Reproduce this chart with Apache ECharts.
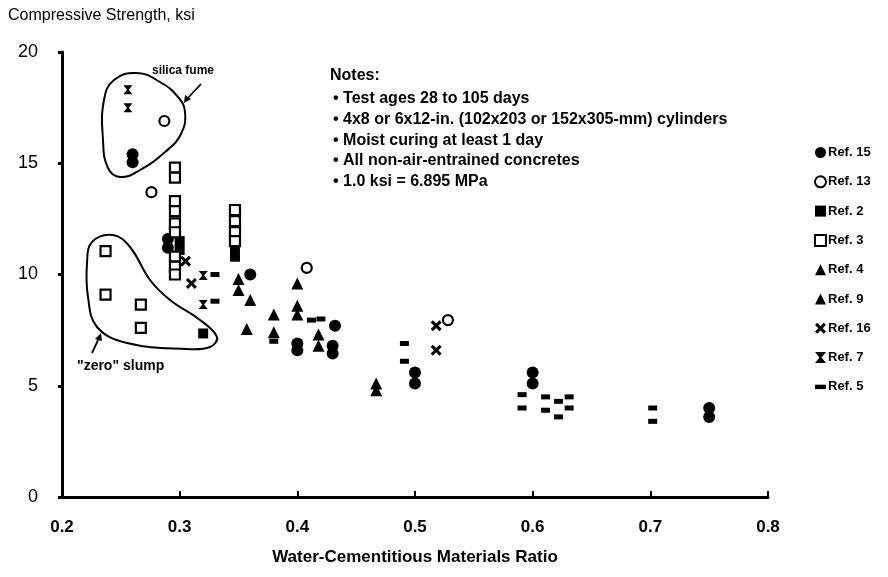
<!DOCTYPE html>
<html><head><meta charset="utf-8">
<script src="https://cdn.jsdelivr.net/npm/echarts@6/dist/echarts.min.js"></script>
<style>html,body{margin:0;padding:0;background:#fff}#c{width:888px;height:577px}</style>
</head><body><div id="c"></div>
<script>
const xTicks = [0.2, 0.3, 0.4, 0.5, 0.6, 0.7, 0.8];
const yTicks = [0, 5, 10, 15, 20];
const ref15 = [[0.26,15.4],[0.26,15.05],[0.29,11.6],[0.29,11.2],[0.36,10.0],[0.40,6.9],[0.40,6.6],[0.432,7.7],[0.43,6.8],[0.43,6.45],[0.50,5.6],[0.50,5.1],[0.60,5.6],[0.60,5.1],[0.75,4.0],[0.75,3.6]];
const ref13 = [[0.287,16.9],[0.276,13.7],[0.408,10.3],[0.528,7.95]];
const ref2 = [[0.30,11.5],[0.30,11.1],[0.32,7.35],[0.347,11.1],[0.347,10.8]];
const ref3 = [[0.237,11.05],[0.237,9.1],[0.267,8.65],[0.267,7.6],[0.296,14.8],[0.296,14.35],[0.296,13.3],[0.296,12.85],[0.296,12.3],[0.296,11.9],[0.296,10.8],[0.296,10.35],[0.296,10.0],[0.347,12.9],[0.347,12.4],[0.347,11.9],[0.347,11.5]];
const ref4 = [[0.35,9.8],[0.35,9.3],[0.36,8.85],[0.357,7.55],[0.38,8.2],[0.38,7.4],[0.40,9.6]];
const ref9 = [[0.40,8.6],[0.40,8.2],[0.418,7.3],[0.418,6.8],[0.467,5.1],[0.467,4.8]];
const ref16 = [[0.305,10.6],[0.31,9.6],[0.518,7.7],[0.518,6.6]];
const ref7 = [[0.256,18.3],[0.256,17.5],[0.32,9.95],[0.32,8.65]];
const ref5 = [[0.33,10.0],[0.33,8.8],[0.412,7.95],[0.42,8.0],[0.38,7.0],[0.491,6.9],[0.491,6.1],[0.591,4.6],[0.591,4.0],[0.611,4.5],[0.611,3.9],[0.622,4.3],[0.622,3.6],[0.631,4.5],[0.631,4.0],[0.702,4.0],[0.702,3.4]];
const seriesNames = ['Ref. 15','Ref. 13','Ref. 2','Ref. 3','Ref. 4','Ref. 9','Ref. 16','Ref. 7','Ref. 5'];
const notes = ['Notes:','\u2022 Test ages 28 to 105 days','\u2022 4x8 or 6x12-in. (102x203 or 152x305-mm) cylinders','\u2022 Moist curing at least 1 day','\u2022 All non-air-entrained concretes','\u2022 1.0 ksi = 6.895 MPa'];

const FONT = '"Liberation Sans", Arial, sans-serif';
const K = '#000';
const XSYM = 'path://M0,2 L2,0 L5,3 L8,0 L10,2 L7,5 L10,8 L8,10 L5,7 L2,10 L0,8 L3,5 Z';
const HOUR = 'path://M0,0 L10,0 L6,5 L10,10 L0,10 L4,5 Z';
const DASH = 'path://M0,3 L10,3 L10,7 L0,7 Z';

function mk(name, data, symbol, size, hollow) {
  return {
    type: 'scatter', name, data, symbol, symbolSize: size,
    itemStyle: hollow ? {color: '#fff', borderColor: K, borderWidth: 2.2, opacity: 1} : {color: K, opacity: 1},
    emphasis: {disabled: true}, z: 3
  };
}

const noteItems = notes.map((t, i) => ({
  type: 'text', left: i === 0 ? 330 : 333, top: [68, 91, 112, 133, 153, 174][i],
  style: {text: t, fontFamily: FONT, fontSize: 16, fontWeight: 'bold', fill: K}
}));

const chart = echarts.init(document.getElementById('c'), null, {renderer: 'canvas'});
chart.setOption({
  animation: false,
  backgroundColor: '#fff',
  textStyle: {fontFamily: FONT, color: K},
  grid: {left: 62, right: 120, top: 52, bottom: 80},
  xAxis: {
    type: 'value', min: 0.2, max: 0.8, interval: 0.1,
    name: 'Water-Cementitious Materials Ratio', nameLocation: 'middle', nameGap: 52,
    nameTextStyle: {fontFamily: FONT, fontSize: 17, fontWeight: 'bold', color: K},
    axisLine: {show: true, lineStyle: {color: K, width: 3}},
    axisTick: {show: true, inside: true, length: 6, lineStyle: {color: K, width: 2}},
    axisLabel: {fontFamily: FONT, fontSize: 17, fontWeight: 'bold', color: K, margin: 22, formatter: v => v.toFixed(1)},
    splitLine: {show: false}
  },
  yAxis: {
    type: 'value', min: 0, max: 20, interval: 5,
    axisLine: {show: true, lineStyle: {color: K, width: 3}},
    axisTick: {show: true, length: 4, lineStyle: {color: K, width: 3}},
    axisLabel: {fontFamily: FONT, fontSize: 18, color: K, margin: 24},
    splitLine: {show: false}
  },
  legend: {
    orient: 'vertical', left: 809, top: 141, itemGap: 16.3, itemWidth: 11, itemHeight: 11,
    textStyle: {fontFamily: FONT, fontSize: 13, fontWeight: 'bold', color: K, padding: [0,0,0,-3]},
    data: seriesNames, selectedMode: false
  },
  series: [
    mk('Ref. 15', ref15, 'circle', 12, false),
    mk('Ref. 13', ref13, 'circle', 10, true),
    mk('Ref. 2', ref2, 'rect', 10, false),
    mk('Ref. 3', ref3, 'rect', 10, true),
    mk('Ref. 4', ref4, 'triangle', 12, false),
    mk('Ref. 9', ref9, 'triangle', 12, false),
    mk('Ref. 16', ref16, XSYM, 11, false),
    mk('Ref. 7', ref7, HOUR, 9, false),
    mk('Ref. 5', ref5, DASH, [9, 5], false)
  ],
  graphic: [
    {type: 'text', left: 8, top: 8, style: {text: 'Compressive Strength, ksi', fontFamily: FONT, fontSize: 16, fill: K}},
    {type: 'polygon', shape: {smooth: 0.45, points: [[137,73],[160,82],[178,97],[185,112],[181,134],[165,152],[140,170],[120,177],[108,168],[103,140],[104,100],[114,80]]}, style: {fill: 'none', stroke: K, lineWidth: 2}},
    {type: 'text', left: 152, top: 65, style: {text: 'silica fume', fontFamily: FONT, fontSize: 12, fontWeight: 'bold', fill: K}},
    {type: 'line', shape: {x1: 201, y1: 84, x2: 186, y2: 100}, style: {stroke: K, lineWidth: 1.8}},
    {type: 'polygon', shape: {points: [[184,103],[185,95],[191,99]]}, style: {fill: K}},
    {type: 'polygon', shape: {smooth: 0.4, points: [[92,242],[113,235],[130,247],[150,280],[170,300],[200,320],[217,337],[210,347],[187,349],[127,343],[97,327],[88,297],[87,263]]}, style: {fill: 'none', stroke: K, lineWidth: 2}},
    {type: 'line', shape: {x1: 92, y1: 353, x2: 99, y2: 338}, style: {stroke: K, lineWidth: 1.8}},
    {type: 'polygon', shape: {points: [[101,333],[95,339],[102,341]]}, style: {fill: K}},
    {type: 'text', left: 77, top: 359, style: {text: '"zero" slump', fontFamily: FONT, fontSize: 14, fontWeight: 'bold', fill: K}}
  ].concat(noteItems)
});
</script></body></html>
